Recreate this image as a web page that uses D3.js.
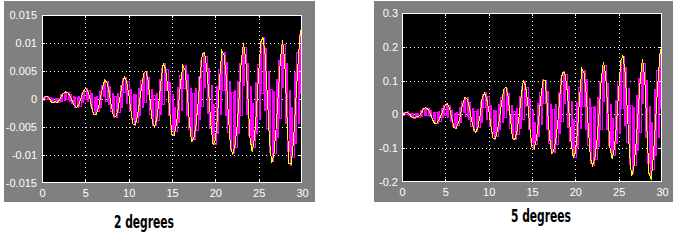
<!DOCTYPE html>
<html>
<head>
<meta charset="utf-8">
<script src="https://cdn.jsdelivr.net/npm/d3@7"></script>
<style>
body { margin: 0; background: #fff; }
svg { display: block; }
</style>
</head>
<body>
<div id="chart"></div>
<script>
// sample steps of the two scope traces, seconds
var dtYellow = 0.25;
var dtMagenta = 0.15;

var xTicks = [0, 5, 10, 15, 20, 25, 30];
var yTicks2 = [-0.015, -0.01, -0.005, 0, 0.005, 0.01, 0.015];
var yTicks5 = [-0.2, -0.1, 0, 0.1, 0.2, 0.3];

// 2 degrees, values in units of 1e-3
var unit2 = 1e-3;
var yellow2 = [0, 0.2, 0.5, 0.3, -0.4, -0.7, -0.5, -0.6, -0.2, 0.5, 1.0, 1.3, 1.1, 0.5, -0.4, -1.2, -1.5, -1.0, 0.1, 1.3,
  1.9, 1.5, 0.4, -1.6, -2.8, -2.7, -1.6, 0.2, 2.2, 3.4, 2.9, 1.2, -1.3, -3.0, -3.2, -2.0, 0.3, 2.7, 3.9, 3.2,
  1.0, -2.0, -4.5, -4.6, -3.1, -0.6, 2.4, 4.6, 5.0, 3.2, -0.8, -4.4, -4.9, -3.5, -0.4, 3.5, 6.4, 5.4, 2.2, -2.6,
  -6.4, -6.5, -4.6, -1.2, 3.0, 6.0, 5.2, 1.3, -4.0, -7.5, -7.1, -4.9, -1.0, 4.2, 8.0, 8.3, 5.6, 0.8, -4.8, -8.2,
  -7.4, -3.2, 3.6, 8.6, 7.9, 4.0, -2.7, -8.6, -9.8, -8.5, -5.0, 0.4, 7.0, 10.0, 7.3, 0.6, -7.0, -9.4, -7.2, -2.0,
  4.6, 10.2, 11.0, 7.8, 0.5, -7.5, -11.4, -10.0, -5.5, 0.5, 6.8, 10.5, 7.0, -2.5, -11.5, -11.6, -7.8, -1.5, 5.3, 11.0,
  13.4];
var magenta2 = [0.3, -0.25, 0.42, -0.1, 0.5, -0.16, 0.25, -0.6, 0.1, -0.7,
  0.17, -0.65, 0.17, -0.55, 0.74, -0.47, 1.06, -0.22, 1.26, -0.13,
  1.2, -0.38, 0.84, -0.8, 0.4, -1.5, 0.33, -1.58, 0.45, -1.25,
  1.0, -0.58, 1.6, -0.14, 1.85, -0.52, 1.6, -1.4, 0.9, -2.4,
  0.24, -2.73, 0.38, -2.32, 1.3, -1.6, 2.5, 0.4, 3.3, -0.4,
  3.2, -1.05, 2.2, -2.26, 1.0, -3.25, 0.5, -3.23, 0.9, -2.4,
  2.4, -1.46, 3.6, 1.2, 3.9, -0.86, 3.15, -2.12, 1.67, -3.65,
  0.75, -4.8, 0.8, -4.28, 1.8, -3.0, 3.3, -1.47, 4.6, -0.6,
  4.9, 0.8, 3.8, -2.75, 1.75, -4.7, 0.6, -4.8, 1.05, -3.8,
  3.4, -2.73, 5.4, -1.0, 6.3, 1.5, 5.2, -3.0, 2.86, -5.45,
  0.72, -6.5, -1.5, -5.84, 2.14, -4.14, 4.18, -1.98, 6.0, 1.8,
  5.9, -2.9, 4.3, -5.5, 1.8, -7.5, 0.9, -7.2, 1.8, -5.7,
  4.1, -3.65, 6.8, -1.34, 8.25, 2.0, 7.6, -2.5, 5.4, -5.25,
  2.45, -7.9, -1.0, -8.2, 2.2, -6.24, 5.2, -2.73, 8.22, 1.5,
  8.35, -2.9, 6.6, -6.0, 3.1, -9.27, 1.2, -9.7, 1.46, -8.6,
  3.15, -6.2, 6.27, -2.94, 9.2, 2.5, 9.27, -2.82, 6.37, -6.6,
  2.15, -9.1, -0.8, -8.74, 3.0, -6.2, 6.2, -3.6, 10.3, 1.0,
  11.0, -2.1, 9.05, -5.3, 5.0, -9.57, 1.77, -11.2, 1.37, -9.7,
  3.52, -6.86, 6.8, -3.5, 9.73, 2.0, 9.78, -4.4, 6.4, -9.45,
  1.5, -11.9, -1.5, -10.5, 4.8, -7.88, 8.37, -4.3, 11.6, 1.0,
  -3.0];

// 5 degrees, values in units of 1e-2
var unit5 = 1e-2;
var yellow5 = [0, 0.3, 0.6, 0.4, -0.5, -1.0, -0.8, -0.7, -0.4, 0.6, 1.6, 2.0, 1.5, 0.4, -1.4, -2.7, -2.6, -1.7, -0.3, 1.4,
  2.8, 3.2, 1.8, -1.2, -3.9, -4.1, -2.6, -0.2, 3.1, 5.1, 4.6, 2.4, -1.2, -4.2, -5.3, -4.0, -0.5, 4.8, 6.3, 4.9,
  1.5, -3.3, -7.0, -7.2, -5.0, -1.3, 3.5, 7.4, 8.1, 5.2, -1.0, -7.2, -7.5, -5.3, -0.8, 5.2, 9.9, 8.5, 3.6, -3.8,
  -9.6, -10.3, -7.4, -2.0, 4.6, 9.8, 10.2, 3.0, -6.0, -11.5, -10.9, -7.6, -1.6, 6.5, 12.4, 12.5, 8.6, 1.0, -7.8, -12.7,
  -11.4, -5.0, 5.4, 13.4, 12.2, 6.2, -4.0, -13.2, -15.1, -13.0, -7.7, 0.6, 10.8, 15.6, 11.5, 1.2, -10.0, -13.2, -10.2, -3.0,
  7.0, 16.0, 17.4, 12.2, 1.0, -11.7, -18.3, -16.0, -8.8, 0.8, 10.6, 16.4, 11.0, -3.8, -17.5, -19.3, -12.5, -2.4, 8.5, 17.5,
  20.8];
var magenta5 = [0.45, -0.38, 0.65, -0.15, 0.78, -0.25, 0.38, -0.9, 0.15, -1.1,
  0.26, -1.0, 0.26, -0.85, 1.15, -0.73, 1.64, -0.34, 1.95, -0.2,
  1.86, -0.59, 1.3, -1.24, 0.68, -2.55, 0.56, -2.7, 0.77, -2.1,
  1.7, -0.99, 2.72, -0.24, 3.15, -0.88, 2.72, -2.0, 1.3, -3.5,
  0.35, -4.0, 0.55, -3.4, 2.0, -2.5, 3.9, 0.6, 5.1, -0.6,
  5.0, -1.6, 3.4, -3.5, 1.6, -5.2, 0.8, -5.2, 1.45, -3.9,
  3.9, -2.4, 5.9, 2.0, 6.4, -1.4, 5.2, -3.5, 2.6, -5.6,
  1.15, -7.4, 1.2, -6.6, 2.8, -4.6, 5.1, -2.3, 7.4, -1.0,
  7.8, 1.3, 6.1, -4.2, 2.7, -7.2, 0.9, -7.4, 1.6, -5.8,
  5.2, -4.2, 8.4, -1.6, 9.8, 2.3, 8.0, -4.6, 4.4, -8.4,
  1.1, -10.1, -2.3, -9.0, 3.3, -6.4, 6.5, -3.1, 10.2, 3.1,
  10.0, -4.5, 6.7, -8.5, 2.8, -11.6, 1.4, -11.2, 2.8, -8.8,
  6.4, -5.7, 10.5, -2.1, 12.8, 3.1, 11.8, -3.9, 8.4, -8.1,
  3.8, -12.2, -1.5, -12.7, 3.4, -9.7, 8.1, -4.2, 12.7, 2.3,
  12.9, -4.5, 10.2, -9.3, 4.8, -14.4, 1.9, -15.0, 2.3, -13.3,
  4.9, -9.6, 9.7, -4.6, 14.3, 3.9, 14.4, -4.4, 9.0, -9.2,
  3.0, -12.7, -1.1, -12.2, 4.2, -8.7, 9.6, -5.6, 16.0, 1.6,
  17.2, -3.3, 14.0, -8.2, 7.8, -14.8, 2.7, -17.4, 2.1, -15.0,
  5.5, -10.6, 10.5, -5.4, 15.1, 3.1, 15.2, -6.8, 9.9, -14.6,
  2.3, -18.5, -2.3, -16.3, 7.4, -12.2, 13.0, -6.7, 18.0, 1.6,
  -4.8];

var svg = d3.select("#chart").append("svg")
  .attr("width", 693)
  .attr("height", 244);

var labelFont = "'Liberation Sans', Arial, sans-serif";

function scope(o) {
  var g = svg.append("g");

  g.append("rect")
    .attr("x", o.panel[0]).attr("y", o.panel[1])
    .attr("width", o.panel[2]).attr("height", o.panel[3])
    .attr("fill", "#808080");

  var x = d3.scaleLinear().domain([0, 30]).range([o.left, o.right]);
  var y = d3.scaleLinear().domain([o.yTicks[0], o.yTicks[o.yTicks.length - 1]]).range([o.bottom, o.top]);

  g.append("rect")
    .attr("x", o.left).attr("y", o.top)
    .attr("width", o.right - o.left).attr("height", o.bottom - o.top)
    .attr("fill", "#000");

  // dotted grid
  g.selectAll(".gx").data(xTicks.slice(1, -1)).enter().append("line")
    .attr("x1", function (d) { return Math.round(x(d)) + 0.5; })
    .attr("x2", function (d) { return Math.round(x(d)) + 0.5; })
    .attr("y1", o.top).attr("y2", o.bottom)
    .attr("stroke", "#fff").attr("stroke-dasharray", "1,3");
  g.selectAll(".gy").data(o.yTicks.slice(1, -1)).enter().append("line")
    .attr("y1", function (d) { return Math.round(y(d)) + 0.5; })
    .attr("y2", function (d) { return Math.round(y(d)) + 0.5; })
    .attr("x1", o.left).attr("x2", o.right)
    .attr("stroke", "#fff").attr("stroke-dasharray", "1,3");

  var clipId = "clip" + o.id;
  svg.append("clipPath").attr("id", clipId).append("rect")
    .attr("x", o.left).attr("y", o.top)
    .attr("width", o.right - o.left).attr("height", o.bottom - o.top);

  var yellowLine = d3.line()
    .x(function (d, i) { return x(i * dtYellow); })
    .y(function (d) { return y(d * o.unit); });
  var magentaLine = d3.line()
    .x(function (d, i) { return x(i * dtMagenta); })
    .y(function (d) { return y(d * o.unit); })
    .curve(d3.curveStepAfter);

  g.append("path").datum(o.magenta)
    .attr("d", magentaLine).attr("fill", "none")
    .attr("stroke", "#ff00ff").attr("stroke-width", 1)
    .attr("shape-rendering", "crispEdges")
    .attr("clip-path", "url(#" + clipId + ")");
  g.append("path").datum(o.yellow)
    .attr("d", yellowLine).attr("fill", "none")
    .attr("stroke", "#ffff00").attr("stroke-width", 1)
    .attr("shape-rendering", "crispEdges")
    .attr("clip-path", "url(#" + clipId + ")");

  // white frame with inward ticks
  g.append("rect")
    .attr("x", o.left + 0.5).attr("y", o.top + 0.5)
    .attr("width", o.right - o.left - 1).attr("height", o.bottom - o.top - 1)
    .attr("fill", "none").attr("stroke", "#fff");
  g.selectAll(".ty").data(o.yTicks.slice(1, -1)).enter().append("path")
    .attr("d", function (d) {
      var yy = Math.round(y(d)) + 0.5;
      return "M" + o.left + "," + yy + "h3M" + (o.right - 3) + "," + yy + "h3";
    })
    .attr("stroke", "#fff");
  g.selectAll(".tx").data(xTicks.slice(1, -1)).enter().append("path")
    .attr("d", function (d) {
      var xx = Math.round(x(d)) + 0.5;
      return "M" + xx + "," + o.top + "v3M" + xx + "," + (o.bottom - 3) + "v3";
    })
    .attr("stroke", "#fff");

  var ax = g.append("g")
    .attr("transform", "translate(0," + o.bottom + ")")
    .call(d3.axisBottom(x).tickValues(xTicks).tickFormat(String).tickSize(0).tickPadding(6));
  var ay = g.append("g")
    .attr("transform", "translate(" + o.left + ",0)")
    .call(d3.axisLeft(y).tickValues(o.yTicks).tickFormat(String).tickSize(0).tickPadding(o.pad));
  [ax, ay].forEach(function (a) {
    a.select(".domain").remove();
    a.selectAll("text")
      .attr("fill", "#fff")
      .style("font-family", labelFont)
      .style("font-size", "11px");
  });

  svg.append("text")
    .attr("x", o.titleX).attr("y", o.titleY)
    .attr("text-anchor", "middle")
    .attr("textLength", 60).attr("lengthAdjust", "spacingAndGlyphs")
    .style("font-family", "'Liberation Sans Narrow', 'DejaVu Sans Condensed', sans-serif")
    .style("font-weight", "bold")
    .style("font-size", "17px")
    .attr("fill", "#000")
    .text(o.title);
}

scope({
  id: 2, panel: [4, 1, 311, 201],
  left: 42, right: 302, top: 15, bottom: 183, pad: 5,
  yTicks: yTicks2, unit: unit2, yellow: yellow2, magenta: magenta2,
  title: "2 degrees", titleX: 144, titleY: 228
});
scope({
  id: 5, panel: [374, 1, 299, 201],
  left: 402, right: 662, top: 13, bottom: 182, pad: 4,
  yTicks: yTicks5, unit: unit5, yellow: yellow5, magenta: magenta5,
  title: "5 degrees", titleX: 541, titleY: 222
});
</script>
</body>
</html>
